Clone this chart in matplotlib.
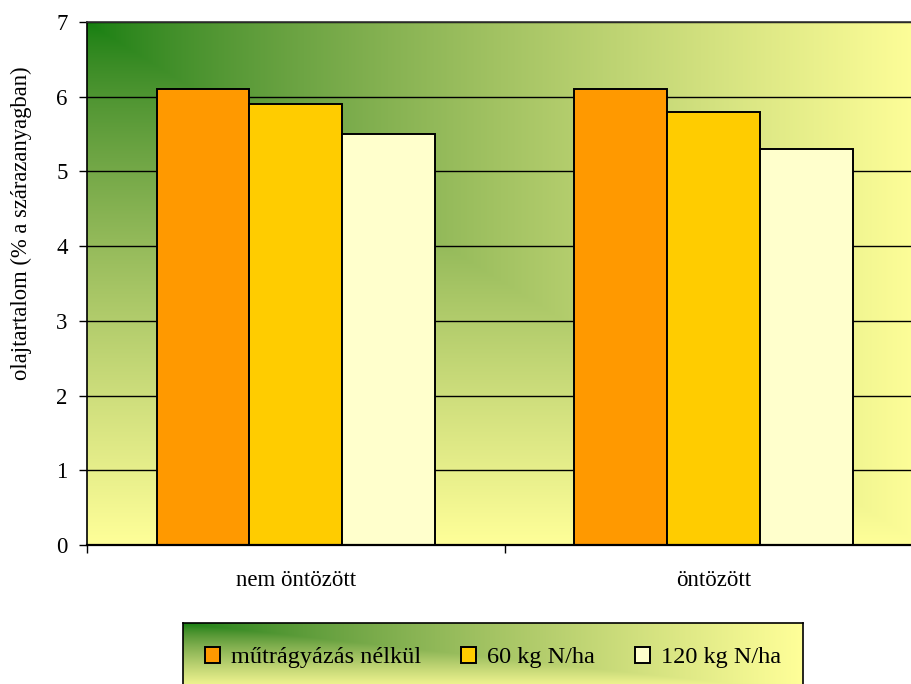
import numpy as np
import matplotlib
matplotlib.use("Agg")
import matplotlib.pyplot as plt

plt.rcParams['font.family'] = ['Liberation Serif', 'DejaVu Serif']

categories = ["nem öntözött", "öntözött"]
series_labels = ["műtrágyázás nélkül", "60 kg N/ha", "120 kg N/ha"]
series_values = [
    [6.1, 6.1],
    [5.9, 5.8],
    [5.5, 5.3],
]
series_colors = ["#FF9900", "#FFCC00", "#FFFFCC"]
y_ticks = [0, 1, 2, 3, 4, 5, 6, 7]

GREEN = np.array([0x12, 0x7f, 0x0e]) / 255.0
YELLOW = np.array([0xff, 0xff, 0x99]) / 255.0


def corner_gradient(h, w):
    """Fill running from the top-left corner (green) to the far edges (yellow)."""
    u = np.linspace(0, 1, w)[None, :]
    v = np.linspace(0, 1, h)[:, None]
    t = np.maximum(u, v)
    img = np.empty((h, w, 3))
    powers = [0.7, 0.9, 0.7]
    for c in range(3):
        tc = t ** powers[c]
        img[:, :, c] = GREEN[c] + (YELLOW[c] - GREEN[c]) * tc
    return img


fig = plt.figure(figsize=(9.12, 6.84), dpi=100)
W, H = 912, 684
ax = fig.add_axes([87 / W, (H - 545) / H, 836 / W, 523 / H])

n_cat = len(categories)
ax.set_xlim(0, n_cat)
ax.set_ylim(0, 7)

ax.imshow(corner_gradient(400, 600), extent=(0, n_cat, 0, 7), aspect='auto',
          origin='upper', zorder=0, interpolation='bilinear')

for y in y_ticks[1:]:
    ax.axhline(y, color='black', lw=1.0, zorder=1)

bar_w = 93 / 418
centers = np.arange(n_cat) + 0.5
bars = []
for i, (vals, col, lab) in enumerate(zip(series_values, series_colors, series_labels)):
    offs = (i - 1) * bar_w
    b = ax.bar(centers + offs, vals, width=bar_w, color=col, edgecolor='black',
               linewidth=1.4, label=lab, zorder=2)
    bars.append(b)

ax.set_yticks(y_ticks)
ax.set_yticklabels([str(v) for v in y_ticks], fontsize=16.5)
ax.set_xticks(np.arange(n_cat + 1))
ax.set_xticklabels([])
ax.set_xticks(centers, minor=True)
ax.set_xticklabels(categories, minor=True, fontsize=16.5)
ax.tick_params(axis='x', which='minor', length=0, pad=18)
ax.tick_params(axis='x', which='major', direction='out', length=6, width=1)
ax.tick_params(axis='y', direction='out', length=6, width=1, pad=8)

for s in ['top', 'left', 'bottom']:
    ax.spines[s].set_color('black')
    ax.spines[s].set_linewidth(1.2)
ax.spines['bottom'].set_linewidth(1.6)
ax.spines['top'].set_color('#333333')
ax.spines['right'].set_visible(False)

ax.set_ylabel("olajtartalom (% a szárazanyagban)", fontsize=16.3)
ax.yaxis.set_label_coords(-0.0655, 0.615)

# legend box with its own gradient fill
lax = fig.add_axes([183 / W, (H - 692) / H, (803 - 183) / W, (692 - 623) / H])
lax.imshow(corner_gradient(60, 400), extent=(0, 1, 0, 1), aspect='auto',
           origin='upper', interpolation='bilinear')
lax.set_xlim(0, 1)
lax.set_ylim(0, 1)
lax.set_xticks([])
lax.set_yticks([])
for s in lax.spines.values():
    s.set_color('black')
    s.set_linewidth(1.2)
leg = lax.legend([b[0] for b in bars], series_labels, loc='upper center',
                 bbox_to_anchor=(0.5, 0.97), ncol=3, frameon=False, fontsize=17.5,
                 handlelength=0.62, handleheight=0.62, handletextpad=0.45,
                 columnspacing=1.65)

fig.savefig("out.png", dpi=100)
